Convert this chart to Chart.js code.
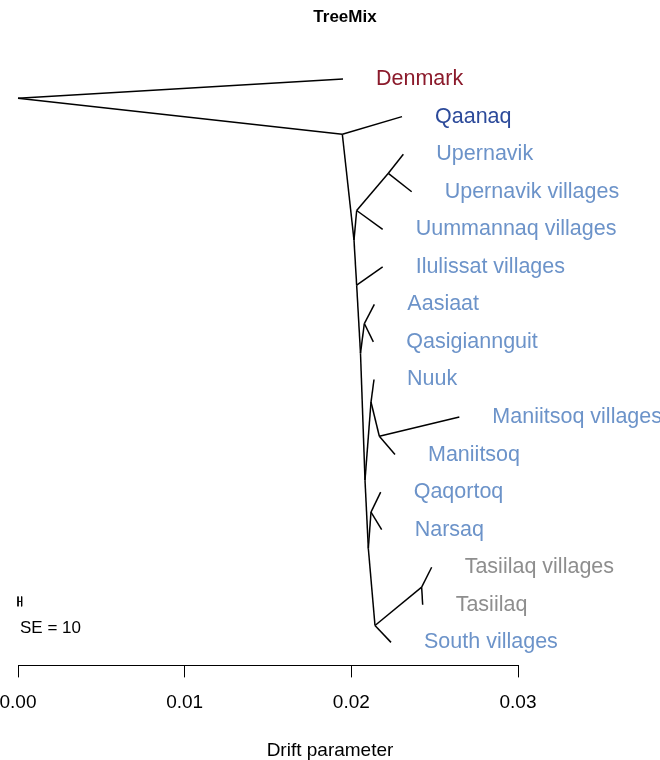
<!DOCTYPE html>
<html>
<head>
<meta charset="utf-8">
<title>TreeMix</title>
<script src="https://cdn.jsdelivr.net/npm/chart.js@4.4.1/dist/chart.umd.min.js"></script>
<style>
  html, body { margin: 0; padding: 0; background: #fff; }
  #wrap { width: 660px; height: 760px; position: relative; }
</style>
</head>
<body>
<div id="wrap"><canvas id="treeChart"></canvas></div>
<script>
// Nodos del árbol (hojas + nodos internos)
const nodeNames = [
  'root', 'Denmark', 'n_A', 'Qaanaq', 'n_C', 'n_B', 'n_U', 'Upernavik', 'Upernavik villages',
  'Uummannaq villages', 'n_D', 'Ilulissat villages', 'n_F', 'n_E', 'Aasiaat', 'Qasigiannguit',
  'n_G', 'n_H', 'Nuuk', 'n_I', 'Maniitsoq villages', 'Maniitsoq', 'n_K', 'n_J', 'Qaqortoq',
  'Narsaq', 'n_L', 'n_M', 'Tasiilaq villages', 'Tasiilaq', 'South villages'
];
const nodeParent = [-1, 0, 0, 2, 2, 4, 5, 6, 6, 5, 4, 10, 10, 12, 13, 13, 12, 16, 17, 17, 19, 19, 16, 22, 23, 23, 22, 26, 27, 27, 26];
const nodeDrift = [
  0, 0.0195, 0.01946, 0.02304, 0.02016, 0.02032, 0.02222, 0.02312, 0.02362,
  0.02188, 0.02032, 0.02188, 0.02055, 0.02078, 0.02138, 0.02132,
  0.02082, 0.02118, 0.02136, 0.02168, 0.02648, 0.02262, 0.02102, 0.02118, 0.02176,
  0.02182, 0.02142, 0.02422, 0.02482, 0.02428, 0.02238
];
const nodeRow = [
  0.51, 0, 1.47, 1, 4.29, 3.50, 2.51, 2, 3,
  4, 5.49, 5, 7.30, 6.51, 6, 7,
  10.68, 8.6, 8, 9.51, 9, 10, 12.5, 11.53, 11,
  12, 14.55, 13.53, 13, 14, 15
];
// grupo de cada hoja (para el color de la etiqueta)
const nodeGroup = [
  null, 'dk', null, 'qa', null, null, null, 'gl', 'gl',
  'gl', null, 'gl', null, null, 'gl', 'gl',
  null, null, 'gl', null, 'gl', 'gl', null, null, 'gl',
  'gl', null, null, 'ea', 'ea', 'gl'
];
const groupColors = { dk: '#8b1a2b', qa: '#2c4a9a', gl: '#6c93c9', ea: '#8e8e8e' };

const tickValues = [0, 0.01, 0.02, 0.03];
const seBarDrift = [0, 0.00022];
const seBarRow = 13.91;
const seLabel = 'SE = 10';
const seLabelRow = 14.63;

function segment(points, width) {
  return {
    data: points,
    showLine: true,
    borderColor: '#000',
    borderWidth: width,
    pointRadius: 0,
    pointHoverRadius: 0
  };
}

// Un dataset por rama padre-hijo
const datasets = [];
nodeParent.forEach((p, i) => {
  if (p < 0) return;
  datasets.push(segment([
    { x: nodeDrift[p], y: nodeRow[p] },
    { x: nodeDrift[i], y: nodeRow[i] }
  ], 1.5));
});

// Barra de SE
datasets.push(segment([{ x: seBarDrift[0], y: seBarRow }, { x: seBarDrift[1], y: seBarRow }], 1));
seBarDrift.forEach(d => {
  datasets.push(segment([{ x: d, y: seBarRow - 0.13 }, { x: d, y: seBarRow + 0.13 }], 1));
});

const treePlugin = {
  id: 'treeLabels',
  afterDraw(chart) {
    const ctx = chart.ctx;
    const xs = chart.scales.x, ys = chart.scales.y;
    ctx.save();
    // línea del eje sólo entre el primer y último tick
    ctx.strokeStyle = '#000';
    ctx.lineWidth = 1;
    ctx.beginPath();
    const yb = Math.round(chart.chartArea.bottom) + 0.5;
    ctx.moveTo(xs.getPixelForValue(tickValues[0]), yb);
    ctx.lineTo(xs.getPixelForValue(tickValues[tickValues.length - 1]), yb);
    ctx.stroke();

    // etiquetas de las hojas
    ctx.font = '21.5px "Liberation Sans", Arial, sans-serif';
    ctx.textBaseline = 'middle';
    ctx.textAlign = 'left';
    nodeNames.forEach((name, i) => {
      if (!nodeGroup[i]) return;
      ctx.fillStyle = groupColors[nodeGroup[i]];
      ctx.fillText(name, xs.getPixelForValue(nodeDrift[i]) + 33, ys.getPixelForValue(nodeRow[i]));
    });

    // SE
    ctx.fillStyle = '#000';
    ctx.font = '17px "Liberation Sans", Arial, sans-serif';
    ctx.fillText(seLabel, xs.getPixelForValue(0) + 2, ys.getPixelForValue(seLabelRow));

    // título
    ctx.font = 'bold 17px "Liberation Sans", Arial, sans-serif';
    ctx.textAlign = 'center';
    ctx.fillText('TreeMix', 345, 17);
    ctx.restore();
  }
};

new Chart(document.getElementById('treeChart'), {
  type: 'scatter',
  data: { datasets: datasets },
  options: {
    responsive: true,
    maintainAspectRatio: false,
    animation: false,
    layout: { padding: 0, autoPadding: false },
    plugins: {
      legend: { display: false },
      tooltip: { enabled: false }
    },
    scales: {
      x: {
        type: 'linear',
        min: -0.00108,
        max: 0.03852,
        afterBuildTicks: (scale) => { scale.ticks = tickValues.map(v => ({ value: v })); },
        afterFit: (scale) => { scale.paddingLeft = 0; scale.paddingRight = 0; },
        grid: { display: true, drawOnChartArea: false, drawTicks: true, tickLength: 12, color: '#000', lineWidth: 1 },
        border: { display: false },
        ticks: {
          color: '#000',
          padding: 14,
          maxRotation: 0,
          autoSkip: false,
          font: { family: '"Liberation Sans", Arial, sans-serif', size: 19 },
          callback: (v) => Number(v).toFixed(2)
        },
        title: {
          display: true,
          text: 'Drift parameter',
          color: '#000',
          padding: { top: 11, bottom: -2 },
          font: { family: '"Liberation Sans", Arial, sans-serif', size: 19 }
        }
      },
      y: {
        type: 'linear',
        display: false,
        reverse: true,
        min: -2.105,
        max: 15.613
      }
    }
  },
  plugins: [treePlugin]
});
</script>
</body>
</html>
